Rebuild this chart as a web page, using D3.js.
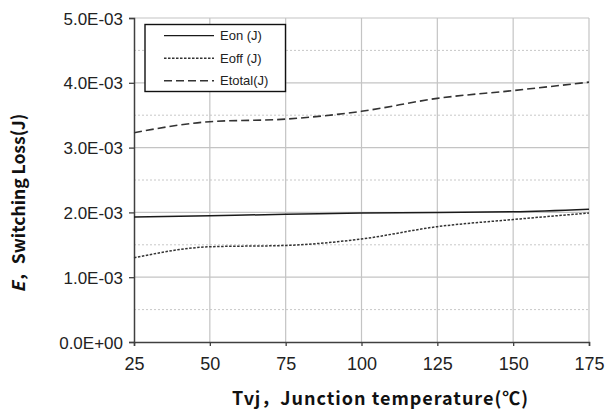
<!DOCTYPE html>
<html>
<head>
<meta charset="utf-8">
<script src="https://cdn.jsdelivr.net/npm/d3@7"></script>
<style>
  body { margin: 0; background: #fff; }
  svg { display: block; }
</style>
</head>
<body>
<svg width="608" height="412"></svg>
<script>
// temperatures (°C) and switching losses (J)
var temps = [25, 50, 75, 100, 125, 150, 175];
var eon = [1.93e-3, 1.95e-3, 1.97e-3, 1.99e-3, 2.00e-3, 2.01e-3, 2.05e-3];
var eoff = [1.30e-3, 1.47e-3, 1.49e-3, 1.59e-3, 1.78e-3, 1.89e-3, 1.99e-3];
var etotal = [3.23e-3, 3.40e-3, 3.44e-3, 3.56e-3, 3.76e-3, 3.88e-3, 4.01e-3];
var yTicks = [0, 1e-3, 2e-3, 3e-3, 4e-3, 5e-3];
var yMinor = [0.5e-3, 1.5e-3, 2.5e-3, 3.5e-3, 4.5e-3];
var seriesNames = ["Eon (J)", "Eoff (J)", "Etotal(J)"];

var margin = { top: 18, right: 19, bottom: 70, left: 134 };
var width = 608, height = 412;

var svg = d3.select("svg");

var x = d3.scaleLinear().domain([25, 175]).range([margin.left, width - margin.right]);
var y = d3.scaleLinear().domain([0, 5e-3]).range([height - margin.bottom, margin.top]);

// grid
svg.append("g").selectAll("line")
    .data(yMinor).enter().append("line")
    .attr("x1", x(25)).attr("x2", x(175))
    .attr("y1", d => y(d)).attr("y2", d => y(d))
    .attr("stroke", "#c8c8c8").attr("stroke-dasharray", "2,2");

svg.append("g").selectAll("line")
    .data(yTicks.slice(1)).enter().append("line")
    .attr("x1", x(25)).attr("x2", x(175))
    .attr("y1", d => y(d)).attr("y2", d => y(d))
    .attr("stroke", "#c4c4c4").attr("stroke-width", 1.2);

svg.append("g").selectAll("line")
    .data(temps.slice(1)).enter().append("line")
    .attr("x1", d => x(d)).attr("x2", d => x(d))
    .attr("y1", y(0)).attr("y2", y(5e-3))
    .attr("stroke", "#c4c4c4").attr("stroke-width", 1.2);

// axes
var fmt = d => d === 0 ? "0.0E+00" : (d * 1000).toFixed(1) + "E-03";

var yAxis = svg.append("g")
    .attr("transform", "translate(" + margin.left + ",0)")
    .call(d3.axisLeft(y).tickValues(yTicks).tickFormat(fmt).tickSize(5).tickPadding(6));

var xAxis = svg.append("g")
    .attr("transform", "translate(0," + y(0) + ")")
    .call(d3.axisBottom(x).tickValues(temps).tickSize(4).tickPadding(10));

[xAxis, yAxis].forEach(function (g) {
    g.select(".domain").attr("stroke", "#404040").attr("stroke-width", 1.5);
    g.selectAll(".tick line").attr("stroke", "#404040").attr("stroke-width", 1.3);
    g.selectAll("text")
        .attr("fill", "#222")
        .style("font-family", "'Liberation Sans', Arial, sans-serif");
});
yAxis.selectAll("text").style("font-size", "17px").attr("dy", "0.36em");
xAxis.selectAll("text").style("font-size", "18px").attr("dy", "0.75em");

// lines
var line = d3.line()
    .x((d, i) => x(temps[i]))
    .y(d => y(d))
    .curve(d3.curveMonotoneX);

var styles = [
    { data: eon, color: "#1a1a1a", dash: null, w: 1.5 },
    { data: eoff, color: "#333", dash: "2.5,1.5", w: 1.5 },
    { data: etotal, color: "#333", dash: "8,4", w: 1.6 }
];

styles.forEach(function (s) {
    svg.append("path")
        .attr("d", line(s.data))
        .attr("fill", "none")
        .attr("stroke", s.color)
        .attr("stroke-width", s.w)
        .attr("stroke-dasharray", s.dash);
});

// legend
var legend = svg.append("g");
legend.append("rect")
    .attr("x", 145).attr("y", 24.5)
    .attr("width", 140.5).attr("height", 67)
    .attr("fill", "#fff").attr("stroke", "#111").attr("stroke-width", 1.4);

seriesNames.forEach(function (name, i) {
    var ly = 35.7 + i * 22.5;
    legend.append("line")
        .attr("x1", 164).attr("x2", 214)
        .attr("y1", ly).attr("y2", ly)
        .attr("stroke", styles[i].color)
        .attr("stroke-width", i === 0 ? 1.3 : 1.4)
        .attr("stroke-dasharray", styles[i].dash);
    legend.append("text")
        .attr("x", 220).attr("y", ly)
        .attr("dy", "0.35em")
        .style("font-family", "'Liberation Sans', Arial, sans-serif")
        .style("font-size", "13px")
        .attr("fill", "#222")
        .text(name);
});

// axis titles
svg.append("text")
    .attr("x", 380).attr("y", 405)
    .attr("text-anchor", "middle")
    .attr("textLength", 296)
    .attr("lengthAdjust", "spacing")
    .style("font-family", "'Noto Sans CJK SC', sans-serif")
    .style("font-weight", "bold")
    .style("font-size", "18px")
    .attr("fill", "#111")
    .text("Tvj，Junction temperature(℃)");

var yt = svg.append("text")
    .attr("transform", "translate(25,203) rotate(-90)")
    .attr("text-anchor", "middle")
    .style("font-family", "'Noto Sans CJK SC', sans-serif")
    .style("font-weight", "bold")
    .style("font-size", "17.5px")
    .attr("fill", "#111");
yt.append("tspan").style("font-style", "italic").text("E");
yt.append("tspan").text("，Switching Loss(J)");
</script>
</body>
</html>
